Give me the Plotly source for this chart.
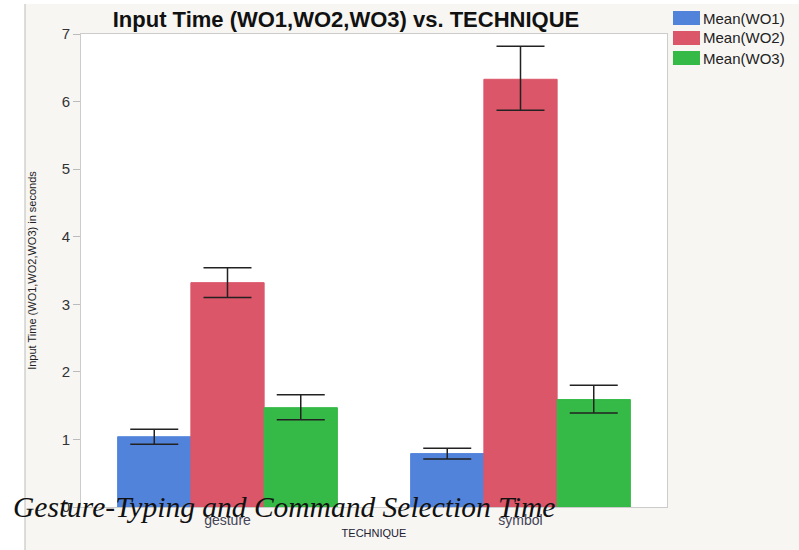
import plotly.graph_objects as go

categories = ["gesture", "symbol"]
series_names = ["Mean(WO1)", "Mean(WO2)", "Mean(WO3)"]
means = {
    "Mean(WO1)": [1.04, 0.79],
    "Mean(WO2)": [3.32, 6.33],
    "Mean(WO3)": [1.47, 1.59],
}
upper = {
    "Mean(WO1)": [1.15, 0.87],
    "Mean(WO2)": [3.54, 6.82],
    "Mean(WO3)": [1.66, 1.80],
}
lower = {
    "Mean(WO1)": [0.93, 0.71],
    "Mean(WO2)": [3.10, 5.87],
    "Mean(WO3)": [1.29, 1.39],
}
colors = ["#5183DB", "#DB5669", "#35B947"]
y_ticks = [0, 1, 2, 3, 4, 5, 6, 7]

W, H = 799, 550
L, R, T, B = 81, 132, 34, 43
pw = W - L - R
ph = H - T - B

fig = go.Figure()
for name, col in zip(series_names, colors):
    m = means[name]
    fig.add_trace(go.Bar(
        x=categories, y=m, name=name, showlegend=False,
        marker=dict(color=col, line=dict(color=col, width=1)),
        error_y=dict(type="data", symmetric=False,
                     array=[u - v for u, v in zip(upper[name], m)],
                     arrayminus=[v - l for v, l in zip(m, lower[name])],
                     color="#222222", thickness=1.5, width=24),
    ))

def px_x(p):
    return (p - L) / pw

def px_y(p):
    return (H - B - p) / ph

shapes = [
    dict(type="rect", xref="paper", yref="paper", layer="below",
         x0=px_x(-5), x1=px_x(25), y0=px_y(555), y1=px_y(-5),
         fillcolor="white", line=dict(width=0)),
    dict(type="rect", xref="paper", yref="paper", layer="below",
         x0=px_x(-5), x1=px_x(805), y0=px_y(4), y1=px_y(-5),
         fillcolor="white", line=dict(width=0)),
    dict(type="line", xref="paper", yref="paper", layer="below",
         x0=px_x(25), x1=px_x(25), y0=px_y(555), y1=px_y(4),
         line=dict(color="#BBBBBB", width=1)),
]
annotations = [
    dict(text="<i>Gesture-Typing and Command Selection Time</i>",
         xref="paper", yref="paper", x=px_x(11), y=px_y(507),
         xanchor="left", yanchor="middle", showarrow=False,
         font=dict(family="Liberation Serif, DejaVu Serif, serif", size=29.5, color="#111111")),
]
# manual legend (wide swatches like the reference)
for i, (name, col) in enumerate(zip(series_names, colors)):
    top = 11 + 20 * i
    shapes.append(dict(type="rect", xref="paper", yref="paper",
                       x0=px_x(673), x1=px_x(700), y0=px_y(top + 14), y1=px_y(top),
                       fillcolor=col, line=dict(color=col, width=0)))
    annotations.append(dict(text=name, xref="paper", yref="paper",
                            x=px_x(701), y=px_y(top + 7), xanchor="left", yanchor="middle",
                            showarrow=False, font=dict(size=15, color="#222222")))

fig.update_layout(
    width=W, height=H,
    margin=dict(l=L, r=R, t=T, b=B, autoexpand=False),
    paper_bgcolor="#F7F6F3",
    plot_bgcolor="white",
    barmode="group", bargap=0.25, bargroupgap=0,
    font=dict(family="Liberation Sans, Arial, sans-serif", color="#333333"),
    title=dict(text="<b>Input Time (WO1,WO2,WO3) vs. TECHNIQUE</b>",
               x=px_x(346), xanchor="center", xref="paper",
               y=1 - 19 / H, yanchor="middle",
               font=dict(size=22, color="#111111")),
    showlegend=False,
    xaxis=dict(showline=True, linecolor="#CCCCCC", linewidth=1, mirror=True,
               ticks="", automargin=False, tickfont=dict(size=14, color="#444455"),
               title=dict(text="TECHNIQUE", font=dict(size=11, color="#222233"), standoff=2)),
    yaxis=dict(range=[0, 7], tickvals=y_ticks, showgrid=False, zeroline=False,
               automargin=False,
               showline=True, linecolor="#CCCCCC", linewidth=1, mirror=True,
               ticks="outside", ticklen=7, tickcolor="#BBBBBB",
               tickfont=dict(size=15, color="#333333"),
               title=dict(text="Input Time (WO1,WO2,WO3) in seconds",
                          font=dict(size=11, color="#222222"), standoff=22)),
    shapes=shapes,
    annotations=annotations,
)

fig.write_html("out.html", config={"displayModeBar": False})
with open("out.html", "r", encoding="utf-8") as f:
    html = f.read()
html = html.replace("<head>", "<head><style>html,body{margin:0;padding:0;overflow:hidden;}</style>", 1)
with open("out.html", "w", encoding="utf-8") as f:
    f.write(html)
